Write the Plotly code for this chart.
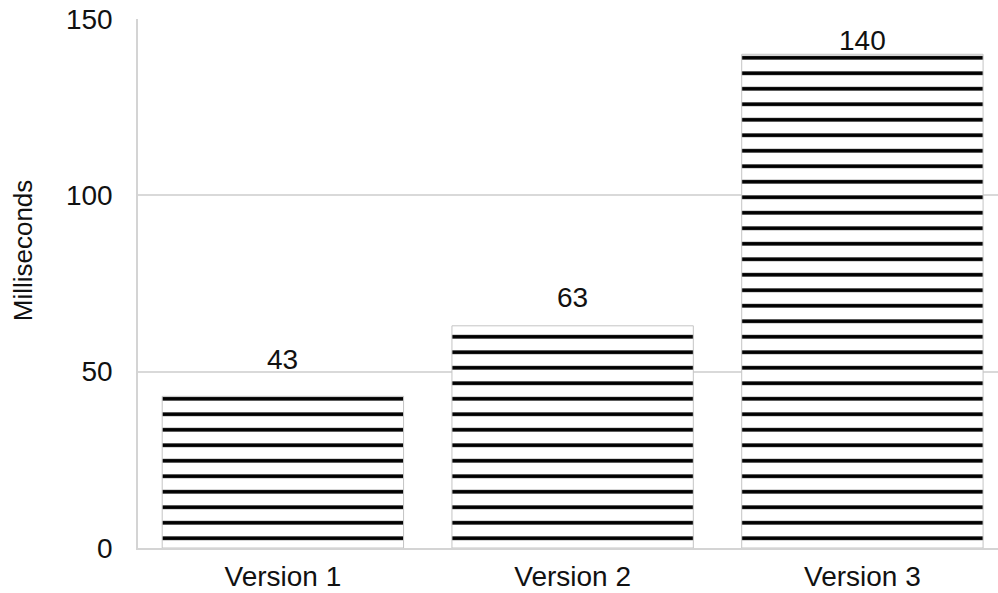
import plotly.graph_objects as go

categories = ["Version 1", "Version 2", "Version 3"]
values = [43, 63, 140]
label_texts = ["43", "63", "140"]
label_offsets = [37, 28, 14]  # px above bar top (label centre)

y_ticks = [0, 50, 100, 150]

FONT = "Liberation Sans, Arial, Helvetica, sans-serif"
FS = 28

W, H = 998, 593
ML, MT, MB = 138, 18.5, 45
PH = H - MT - MB

fig = go.Figure()
fig.add_trace(go.Bar(
    x=categories,
    y=values,
    width=0.833,
    marker=dict(
        color="white",
        line=dict(color="#c4c4c4", width=1),
        pattern=dict(shape="-", fgcolor="#000000", fgopacity=1, bgcolor="white",
                     size=15.5, solidity=0.24, fillmode="replace"),
    ),
    hoverinfo="skip",
))

for c, v, t, off in zip(categories, values, label_texts, label_offsets):
    fig.add_annotation(x=c, y=v, text=t, showarrow=False, yanchor="middle",
                       yshift=off, font=dict(size=FS, color="#111111", family=FONT))

fig.add_annotation(xref="paper", yref="paper", x=(23 - ML) / (W - ML), y=(H - MB - 250) / PH,
                   text="Milliseconds", textangle=-90, showarrow=False,
                   xanchor="center", yanchor="middle",
                   font=dict(size=26, color="#111111", family=FONT))

fig.update_layout(
    width=W, height=H,
    margin=dict(l=ML, r=0, t=MT, b=MB, pad=0, autoexpand=False),
    plot_bgcolor="white", paper_bgcolor="white",
    showlegend=False,
    font=dict(family=FONT, size=FS, color="#111111"),
    xaxis=dict(range=[-0.5, 2.468], showgrid=False, showline=True, automargin=False,
               linecolor="#d4d4d4", linewidth=1.5, ticks="", ticklabelstandoff=3,
               tickfont=dict(size=FS)),
    yaxis=dict(range=[0, 150], tickvals=y_ticks, showgrid=True, gridcolor="#d9d9d9",
               gridwidth=1.5, showline=True, linecolor="#d4d4d4", linewidth=1.5,
               automargin=False, ticklabeloverflow="allow",
               ticks="", ticklabelstandoff=18, zeroline=False, tickfont=dict(size=FS)),
)

fig.write_html("out.html", post_script="document.body.style.margin='0';",
               config={"displayModeBar": False})
